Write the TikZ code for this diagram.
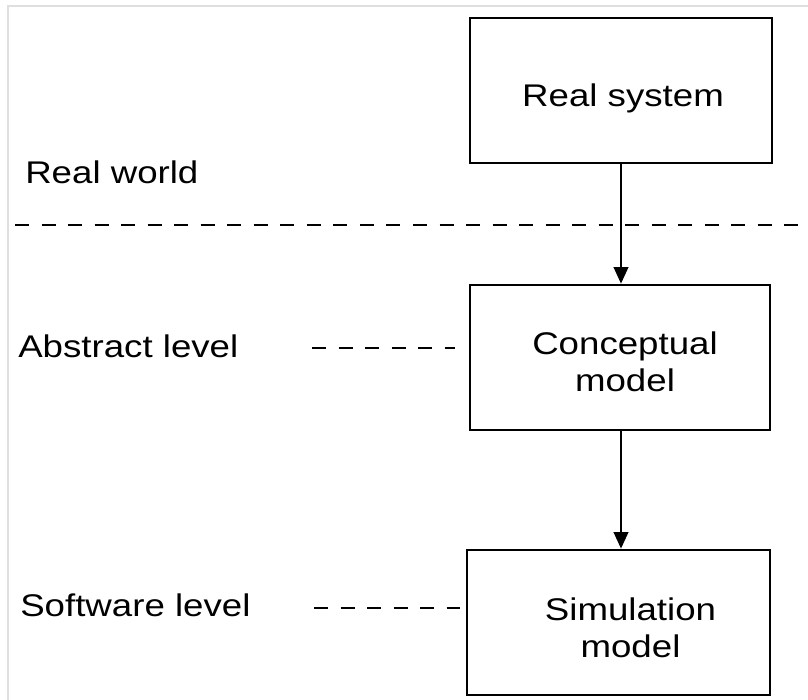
\documentclass[tikz,border=0pt]{standalone}
\usepackage{fontspec}
\setmainfont{Liberation Sans}
\usetikzlibrary{arrows.meta}
\newcommand{\wide}[1]{\scalebox{1.17}[1]{#1}}

\begin{document}
\begin{tikzpicture}[x=0.75pt,y=-0.75pt,
  box/.style={draw,line width=2pt,minimum height=108.75pt,inner sep=0pt},
  txt/.style={align=center,inner sep=0pt,font=\fontsize{23.5}{27.75}\selectfont},
  lvl/.style={anchor=base west,inner sep=0pt,font=\fontsize{23.5}{27}\selectfont},
  sep/.style={line width=2pt,dash pattern=on 10.5pt off 9.4pt},
  flow/.style={line width=1.6pt,-{Triangle[length=12.5pt,width=11pt]}}]
\useasboundingbox (0,0) rectangle (808,700);
\draw[gray!25,line width=0.8pt] (8,700) -- (8,6) -- (808,6);

\node[box,minimum width=226.5pt] (rs) at (621,90.5) {};
\node[box,minimum width=225pt] (cm) at (620,357.5) {};
\node[box,minimum width=227.25pt] (sm) at (618.5,622.5) {};

\node[txt] (rst) at ([shift={(2,8)}]rs.center) {\wide{Real system}};
\node[txt] (cmt) at ([shift={(5,4)}]cm.center) {\wide{Conceptual}\\\wide{model}};
\node[txt] (smt) at ([shift={(12,5)}]sm.center) {\wide{Simulation}\\\wide{model}};

\node[lvl] (rw) at (25,183) {\wide{Real world}};
\node[lvl] (al) at (18,357) {\wide{Abstract level}};
\node[lvl] (sl) at (20,616) {\wide{Software level}};

\draw[sep] (15,225) -- (808,225);
\draw[sep] (312,348) -- (455,348);
\draw[sep] (314,608) -- (460,608);

\draw[flow] (rs.south) -- (rs.south |- cm.north);
\draw[flow] (cm.south -| rs.south) -- (rs.south |- sm.north);
\end{tikzpicture}
\end{document}
